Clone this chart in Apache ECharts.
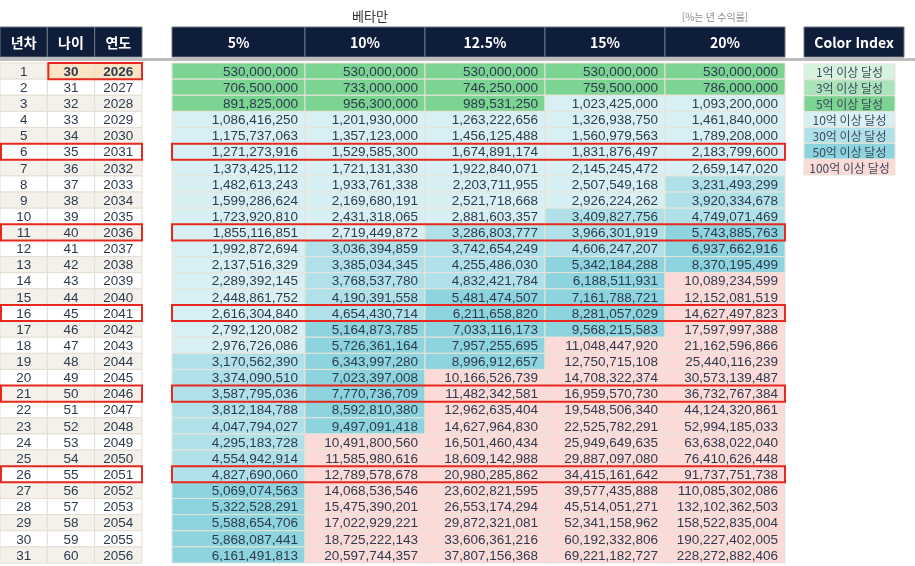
<!DOCTYPE html>
<html lang="ko">
<head>
    <meta charset="utf-8">
    <title>index</title>
    <style>
        html, body { margin: 0; padding: 0; background: #fff; }
    </style>
</head>
<body>
    <div id="main" style="width: 915px;height:566px;"></div>
    <script src="https://cdn.jsdelivr.net/npm/echarts@6.0.0/dist/echarts.min.js"></script>
    <script>
        // 표 데이터
        var leftHeaders = ['년차', '나이', '연도'];
        var rateHeaders = ['5%', '10%', '12.5%', '15%', '20%'];
        var years = [1, 2, 3, 4, 5, 6, 7, 8, 9, 10, 11, 12, 13, 14, 15, 16, 17, 18, 19, 20, 21, 22, 23, 24, 25, 26, 27, 28, 29, 30, 31];
        var ages = [30, 31, 32, 33, 34, 35, 36, 37, 38, 39, 40, 41, 42, 43, 44, 45, 46, 47, 48, 49, 50, 51, 52, 53, 54, 55, 56, 57, 58, 59, 60];
        var calYears = [2026, 2027, 2028, 2029, 2030, 2031, 2032, 2033, 2034, 2035, 2036, 2037, 2038, 2039, 2040, 2041, 2042, 2043, 2044, 2045, 2046, 2047, 2048, 2049, 2050, 2051, 2052, 2053, 2054, 2055, 2056];

        var rate5 = [530000000, 706500000, 891825000, 1086416250, 1175737063, 1271273916, 1373425112, 1482613243, 1599286624, 1723920810,
            1855116851, 1992872694, 2137516329, 2289392145, 2448861752, 2616304840, 2792120082, 2976726086, 3170562390, 3374090510,
            3587795036, 3812184788, 4047794027, 4295183728, 4554942914, 4827690060, 5069074563, 5322528291, 5588654706, 5868087441, 6161491813];
        var rate10 = [530000000, 733000000, 956300000, 1201930000, 1357123000, 1529585300, 1721131330, 1933761338, 2169680191, 2431318065,
            2719449872, 3036394859, 3385034345, 3768537780, 4190391558, 4654430714, 5164873785, 5726361164, 6343997280, 7023397008,
            7770736709, 8592810380, 9497091418, 10491800560, 11585980616, 12789578678, 14068536546, 15475390201, 17022929221, 18725222143, 20597744357];
        var rate125 = [530000000, 746250000, 989531250, 1263222656, 1456125488, 1674891174, 1922840071, 2203711955, 2521718668, 2881603357,
            3286803777, 3742654249, 4255486030, 4832421784, 5481474507, 6211658820, 7033116173, 7957255695, 8996912657, 10166526739,
            11482342581, 12962635404, 14627964830, 16501460434, 18609142988, 20980285862, 23602821595, 26553174294, 29872321081, 33606361216, 37807156368];
        var rate15 = [530000000, 759500000, 1023425000, 1326938750, 1560979563, 1831876497, 2145245472, 2507549168, 2926224262, 3409827756,
            3966301919, 4606247207, 5342184288, 6188511931, 7161788721, 8281057029, 9568215583, 11048447920, 12750715108, 14708322374,
            16959570730, 19548506340, 22525782291, 25949649635, 29887097080, 34415161642, 39577435888, 45514051271, 52341158962, 60192332806, 69221182727];
        var rate20 = [530000000, 786000000, 1093200000, 1461840000, 1789208000, 2183799600, 2659147020, 3231493299, 3920334678, 4749071469,
            5743885763, 6937662916, 8370195499, 10089234599, 12152081519, 14627497823, 17597997388, 21162596866, 25440116239, 30573139487,
            36732767384, 44124320861, 52994185033, 63638022040, 76410626448, 91737751738, 110085302086, 132102362503, 158522835004, 190227402005, 228272882406];

        var legendLabels = ['1억 이상 달성', '3억 이상 달성', '5억 이상 달성', '10억 이상 달성', '30억 이상 달성', '50억 이상 달성', '100억 이상 달성'];
        var legendThresholds = [1e8, 3e8, 5e8, 1e9, 3e9, 5e9, 1e10];
        // 강조(빨간 테두리) 행, 0부터
        var boxRows = [5, 10, 15, 20, 25];

        // 스타일
        var NAVY = '#0e1d3a';
        var legendColors = ['#d7f2de', '#abe4bb', '#7cd492', '#d8f0f4', '#b0e1e9', '#8dd4de', '#fcdad8'];
        var TXT = '#2d3b4e';
        var NUM_FONT = '13.5px "Liberation Sans", Arial, sans-serif';
        var HEAD_FONT = 'bold 14px "Noto Sans CJK KR", sans-serif';

        function fmt(n) {
            return String(n).replace(/\B(?=(\d{3})+(?!\d))/g, ',');
        }

        function colorOf(v) {
            var c = '#fff';
            for (var i = 0; i < legendThresholds.length; i++) {
                if (v >= legendThresholds[i]) c = legendColors[i];
            }
            return c;
        }

        var rowNames = years.map(String);

        function cellBox(api, x, y) {
            var c = api.coord([x, y]);
            var s = api.size([1, 1]);
            return { x: c[0] - s[0] / 2, y: c[1] - s[1] / 2, width: s[0], height: s[1], cx: c[0], cy: c[1] };
        }

        function headerSeries(labels, idx) {
            return {
                type: 'custom',
                xAxisIndex: idx, yAxisIndex: idx,
                data: labels.map(function (l, i) { return [i, 0]; }),
                renderItem: function (params, api) {
                    var b = cellBox(api, api.value(0), 0);
                    return {
                        type: 'group',
                        children: [{
                            type: 'rect',
                            shape: { x: b.x, y: b.y, width: b.width, height: b.height },
                            style: { fill: NAVY, stroke: '#6f7682', lineWidth: 1 }
                        }, {
                            type: 'text',
                            style: {
                                text: labels[api.value(0)], x: b.cx, y: b.cy + 1,
                                align: 'center', verticalAlign: 'middle',
                                textAlign: 'center', textVerticalAlign: 'middle',
                                fill: '#fff', font: HEAD_FONT
                            }
                        }]
                    };
                }
            };
        }

        function rateSeries(cols, idx) {
            var data = [];
            cols.forEach(function (arr, ci) {
                arr.forEach(function (v, ri) { data.push([ci, ri, v]); });
            });
            return {
                type: 'custom',
                xAxisIndex: idx, yAxisIndex: idx,
                data: data,
                renderItem: function (params, api) {
                    var v = api.value(2);
                    var b = cellBox(api, api.value(0), api.value(1));
                    return {
                        type: 'group',
                        children: [{
                            type: 'rect',
                            shape: { x: b.x, y: b.y, width: b.width, height: b.height },
                            style: { fill: colorOf(v), stroke: '#e8e3da', lineWidth: 1 }
                        }, {
                            type: 'text',
                            style: {
                                text: fmt(v), x: b.x + b.width - 7, y: b.cy + 1,
                                align: 'right', verticalAlign: 'middle',
                                textAlign: 'right', textVerticalAlign: 'middle',
                                fill: TXT, font: NUM_FONT
                            }
                        }]
                    };
                }
            };
        }

        var leftData = [];
        [years, ages, calYears].forEach(function (arr, ci) {
            arr.forEach(function (v, ri) { leftData.push([ci, ri, v]); });
        });

        var legendData = legendLabels.map(function (l, i) { return [0, i]; });

        function boxPart(idx, side) {
            return {
                type: 'custom',
                xAxisIndex: idx, yAxisIndex: idx,
                z: 10,
                data: boxRows.map(function (r) { return [r]; }),
                renderItem: function (params, api) {
                    var r = api.value(0);
                    var n = idx === 3 ? 1 : 4;
                    var a = cellBox(api, 0, r);
                    var z = cellBox(api, n - 1, r);
                    var l = a.x, rt = z.x + z.width, t = a.y, btm = a.y + a.height;
                    var pts = side === 'left'
                        ? [[rt, t], [l, t], [l, btm], [rt, btm]]
                        : [[l, t], [rt, t], [rt, btm], [l, btm]];
                    return {
                        type: 'polyline',
                        shape: { points: pts },
                        style: { stroke: '#e8281e', lineWidth: 2, fill: null }
                    };
                }
            };
        }

        var grids = [
            { left: 0, top: 27, width: 142, height: 30 },
            { left: 0, top: 63, width: 142, height: 500 },
            { left: 172, top: 27, width: 133, height: 30 },
            { left: 172, top: 63, width: 133, height: 500 },
            { left: 305, top: 27, width: 480, height: 30 },
            { left: 305, top: 63, width: 480, height: 500 },
            { left: 804, top: 27, width: 100, height: 30 },
            { left: 804, top: 64, width: 91, height: 111 }
        ];
        var xData = [leftHeaders, leftHeaders, rateHeaders.slice(0, 1), rateHeaders.slice(0, 1),
            rateHeaders.slice(1), rateHeaders.slice(1), ['Color Index'], ['Color Index']];
        var yData = [['h'], rowNames, ['h'], rowNames, ['h'], rowNames, ['h'], legendLabels];

        var myChart = echarts.init(document.getElementById('main'));
        var option = {
            animation: false,
            backgroundColor: '#fff',
            title: [{
                text: '베타만', left: 365, top: 5, textAlign: 'center',
                textStyle: { fontSize: 13, fontWeight: 'normal', color: '#333', fontFamily: 'Noto Sans CJK KR' }
            }, {
                text: '[%는 년 수익률]', left: 710, top: 7, textAlign: 'center',
                textStyle: { fontSize: 10, fontWeight: 'normal', color: '#888', fontFamily: 'Noto Sans CJK KR' }
            }],
            grid: grids,
            xAxis: grids.map(function (g, i) {
                return { type: 'category', gridIndex: i, data: xData[i], show: false };
            }),
            yAxis: grids.map(function (g, i) {
                return { type: 'category', gridIndex: i, data: yData[i], inverse: true, show: false };
            }),
            graphic: [{
                type: 'rect', left: 0, top: 58, z: 5,
                shape: { width: 915, height: 3 },
                style: { fill: '#bdbdbd' }
            }],
            series: [
                headerSeries(leftHeaders, 0),
                headerSeries(rateHeaders.slice(0, 1), 2),
                headerSeries(rateHeaders.slice(1), 4),
                headerSeries(['Color Index'], 6),
                {
                    // 년차 / 나이 / 연도
                    type: 'custom',
                    xAxisIndex: 1, yAxisIndex: 1,
                    data: leftData,
                    renderItem: function (params, api) {
                        var ci = api.value(0), ri = api.value(1);
                        var b = cellBox(api, ci, ri);
                        var first = ri === 0 && ci > 0;
                        var fill = first ? '#fbe4c4' : (ri % 2 === 0 ? '#f4f1eb' : '#ffffff');
                        return {
                            type: 'group',
                            children: [{
                                type: 'rect',
                                shape: { x: b.x, y: b.y, width: b.width, height: b.height },
                                style: { fill: fill, stroke: '#e4ded4', lineWidth: 1 }
                            }, {
                                type: 'text',
                                style: {
                                    text: String(api.value(2)), x: b.cx, y: b.cy + 1,
                                    align: 'center', verticalAlign: 'middle',
                                    textAlign: 'center', textVerticalAlign: 'middle',
                                    fill: TXT, font: (first ? 'bold ' : '') + NUM_FONT
                                }
                            }]
                        };
                    }
                },
                rateSeries([rate5], 3),
                rateSeries([rate10, rate125, rate15, rate20], 5),
                {
                    // Color Index
                    type: 'custom',
                    xAxisIndex: 7, yAxisIndex: 7,
                    data: legendData,
                    renderItem: function (params, api) {
                        var i = api.value(1);
                        var b = cellBox(api, 0, i);
                        return {
                            type: 'group',
                            children: [{
                                type: 'rect',
                                shape: { x: b.x, y: b.y, width: b.width, height: b.height },
                                style: { fill: legendColors[i], stroke: '#e8e3da', lineWidth: 1 }
                            }, {
                                type: 'text',
                                style: {
                                    text: legendLabels[i], x: b.cx, y: b.cy + 1,
                                    align: 'center', verticalAlign: 'middle',
                                    textAlign: 'center', textVerticalAlign: 'middle',
                                    fill: '#3b4a5c', font: '12px "Noto Sans CJK KR", sans-serif'
                                }
                            }]
                        };
                    }
                },
                {
                    // 왼쪽 표 강조
                    type: 'custom',
                    xAxisIndex: 1, yAxisIndex: 1,
                    z: 10,
                    data: [[0, 1, 2]].concat(boxRows.map(function (r) { return [r, 0, 2]; })),
                    renderItem: function (params, api) {
                        var r = api.value(0);
                        var a = cellBox(api, api.value(1), r);
                        var z = cellBox(api, api.value(2), r);
                        return {
                            type: 'rect',
                            shape: { x: a.x + 1, y: a.y, width: z.x + z.width - a.x - 1, height: a.height },
                            style: { stroke: '#e8281e', lineWidth: 2, fill: null }
                        };
                    }
                },
                boxPart(3, 'left'),
                boxPart(5, 'right')
            ]
        };
        myChart.setOption(option);
    </script>
</body>
</html>
